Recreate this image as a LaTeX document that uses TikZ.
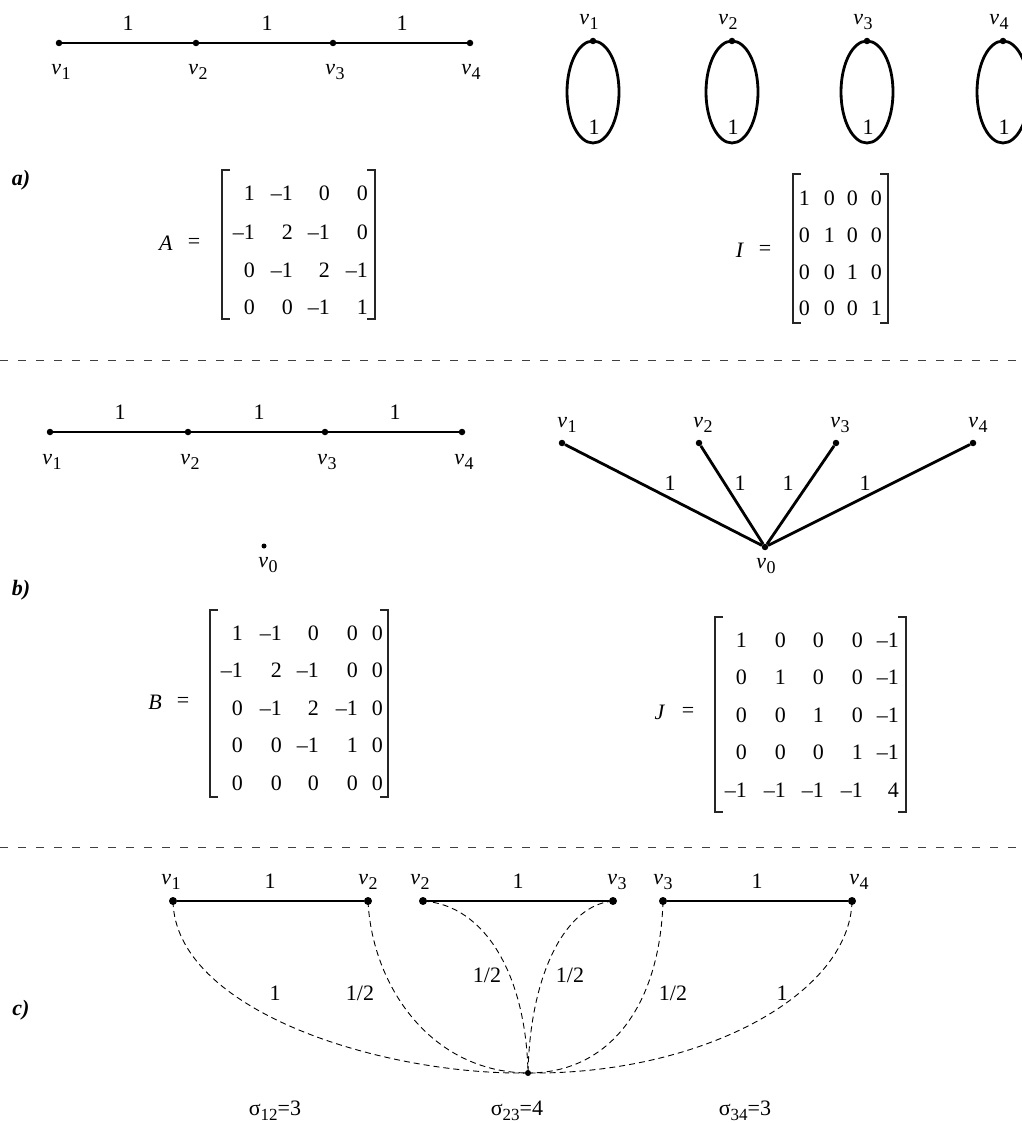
\documentclass[tikz,border=0pt]{standalone}
\usepackage{fontspec}
\setmainfont{Liberation Serif}
\newcommand\vx[1]{\textit{v}\kern0.3pt\raisebox{-5pt}{\fontsize{18}{18}\selectfont #1}}
\newcommand\sgx[2]{σ\raisebox{-5pt}{\fontsize{17}{17}\selectfont #1}=#2}
\tikzset{
  edge/.style={line width=2.8pt},
  vdot/.style={circle,fill,inner sep=0pt,minimum size=6.5pt},
  cdot/.style={circle,fill,inner sep=0pt,minimum size=8pt},
  lbl/.style={inner sep=0pt,font=\fontsize{22}{25}\selectfont},
  sep/.style={dash pattern=on 8pt off 10pt,line width=1pt,black!75},
  curve/.style={dash pattern=on 6pt off 4pt,line width=0.9pt},
  brk/.style={line width=1.3pt,black!85},
}
\newcommand\putmatrix[5]{%
  \foreach \e [count=\i from 0] in {#5}{%
    \pgfmathtruncatemacro\r{div(\i,#2)}%
    \pgfmathtruncatemacro\c{mod(\i,#2)}%
    \pgfmathsetmacro\xx{{#3}[\c]}%
    \pgfmathsetmacro\yy{{#4}[\r]+7.5}%
    \node[lbl,anchor=base east] (#1-\r-\c) at (\xx,\yy) {\e};
  }}
\newcommand\brackets[4]{%
  \draw[brk] (#1+8,#3) -- (#1,#3) -- (#1,#4) -- (#1+8,#4);
  \draw[brk] (#2-8,#3) -- (#2,#3) -- (#2,#4) -- (#2-8,#4);}
\begin{document}
\begin{tikzpicture}[x=1pt,y=-1pt]
\useasboundingbox (0,0) rectangle (1021,1123);

% ---------------- part a ----------------
\node[vdot] (a1) at (59,43) {};
\node[vdot] (a2) at (196,43) {};
\node[vdot] (a3) at (333,43) {};
\node[vdot] (a4) at (470,43) {};
\draw[edge] (a1) -- (a2) -- (a3) -- (a4);
\node[lbl] (wa1) at (128,23) {1};
\node[lbl] (wa2) at (267,23) {1};
\node[lbl] (wa3) at (402,23) {1};
\node[lbl] (la1) at (61,72) {\vx{1}};
\node[lbl] (la2) at (198,72) {\vx{2}};
\node[lbl] (la3) at (335,72) {\vx{3}};
\node[lbl] (la4) at (471,72) {\vx{4}};

\foreach \n/\x in {1/593,2/732,3/867,4/1003}{
  \draw[edge] (\x,92) ellipse [x radius=26,y radius=51];
  \node[vdot] (e\n) at (\x,41) {};
  \node[lbl] (le\n) at (\x-4,22) {\vx{\n}};
  \node[lbl] (we\n) at (\x+1,127) {1};
}

\node[lbl] (pa) at (21,180) {\textbf{\textit{a)}}};

\node[lbl] (Al) at (166,243) {\textit{A}};
\node[lbl] (Ae) at (194,243) {=};
\putmatrix{A}{4}{255,293,330,368}{193,232,270,307}{1,–1,0,0,–1,2,–1,0,0,–1,2,–1,0,0,–1,1}
\brackets{222}{375}{170}{319}

\node[lbl] (Il) at (740,250) {\textit{I}};
\node[lbl] (Ie) at (765,250) {=};
\putmatrix{I}{4}{810,835,858,882}{198,235,272,308}{1,0,0,0,0,1,0,0,0,0,1,0,0,0,0,1}
\brackets{793}{888}{174}{323}

\coordinate (s1l) at (0,360);
\coordinate (s1r) at (1021,360);
\draw[sep] (s1l) -- (s1r);

% ---------------- part b ----------------
\node[vdot] (b1) at (50,432) {};
\node[vdot] (b2) at (188,432) {};
\node[vdot] (b3) at (325,432) {};
\node[vdot] (b4) at (462,432) {};
\draw[edge] (b1) -- (b2) -- (b3) -- (b4);
\node[lbl] (wb1) at (120,412) {1};
\node[lbl] (wb2) at (259,412) {1};
\node[lbl] (wb3) at (395,412) {1};
\node[lbl] (lb1) at (52,462) {\vx{1}};
\node[lbl] (lb2) at (190,462) {\vx{2}};
\node[lbl] (lb3) at (327,462) {\vx{3}};
\node[lbl] (lb4) at (464,462) {\vx{4}};
\node[vdot,minimum size=5pt] (b0) at (264,546) {};
\node[lbl] (lb0) at (268,565) {\vx{0}};

\node[vdot] (s1) at (562,443) {};
\node[vdot] (s2) at (699,443) {};
\node[vdot] (s3) at (836,443) {};
\node[vdot] (s4) at (973,443) {};
\node[vdot] (s0) at (765,547) {};
\draw[edge] (s1) -- (s0);
\draw[edge] (s2) -- (s0);
\draw[edge] (s3) -- (s0);
\draw[edge] (s4) -- (s0);
\node[lbl] (ls1) at (567,425) {\vx{1}};
\node[lbl] (ls2) at (703,425) {\vx{2}};
\node[lbl] (ls3) at (840,425) {\vx{3}};
\node[lbl] (ls4) at (978,425) {\vx{4}};
\node[lbl] (ls0) at (766,566) {\vx{0}};
\node[lbl] (ws1) at (670,483) {1};
\node[lbl] (ws2) at (740,483) {1};
\node[lbl] (ws3) at (788,483) {1};
\node[lbl] (ws4) at (865,483) {1};

\node[lbl] (pb) at (21,590) {\textbf{\textit{b)}}};

\node[lbl] (Bl) at (155,702) {\textit{B}};
\node[lbl] (Be) at (183,702) {=};
\putmatrix{B}{5}{243,282,319,358,383}{633,670,708,745,783}{1,–1,0,0,0,–1,2,–1,0,0,0,–1,2,–1,0,0,0,–1,1,0,0,0,0,0,0}
\brackets{210}{388}{610}{797}

\node[lbl] (Jl) at (660,712) {\textit{J}};
\node[lbl] (Je) at (688,712) {=};
\putmatrix{J}{5}{747,786,824,863,899}{640,677,715,752,790}{1,0,0,0,–1,0,1,0,0,–1,0,0,1,0,–1,0,0,0,1,–1,–1,–1,–1,–1,4}
\brackets{715}{906}{617}{812}

\coordinate (s2l) at (0,847);
\coordinate (s2r) at (1021,847);
\draw[sep] (s2l) -- (s2r);

% ---------------- part c ----------------
\node[cdot] (c1) at (173,901) {};
\node[cdot] (c2) at (368,901) {};
\node[cdot] (c2b) at (423,901) {};
\node[cdot] (c3) at (613,901) {};
\node[cdot] (c3b) at (663,901) {};
\node[cdot] (c4) at (852,901) {};
\node[cdot,minimum size=6pt] (c0) at (528,1073) {};
\draw[edge] (c1) -- (c2);
\draw[edge] (c2b) -- (c3);
\draw[edge] (c3b) -- (c4);
\node[lbl] (wc1) at (270,881) {1};
\node[lbl] (wc2) at (518,881) {1};
\node[lbl] (wc3) at (757,881) {1};
\node[lbl] (lc1) at (171,882) {\vx{1}};
\node[lbl] (lc2) at (368,882) {\vx{2}};
\node[lbl] (lc2b) at (420,882) {\vx{2}};
\node[lbl] (lc3) at (617,882) {\vx{3}};
\node[lbl] (lc3b) at (663,882) {\vx{3}};
\node[lbl] (lc4) at (859,882) {\vx{4}};

\draw[curve] (c1.center) .. controls (175,1010) and (380,1075) .. (c0.center);
\draw[curve] (c2.center) .. controls (372,985) and (430,1072) .. (c0.center);
\draw[curve] (c2b.center) .. controls (485,905) and (526,975) .. (c0.center);
\draw[curve] (c3.center) .. controls (565,905) and (530,975) .. (c0.center);
\draw[curve] (c3b.center) .. controls (660,1005) and (610,1073) .. (c0.center);
\draw[curve] (c4.center) .. controls (850,995) and (700,1075) .. (c0.center);

\node[lbl] (wd1) at (275,993) {1};
\node[lbl] (wd2) at (360,993) {1/2};
\node[lbl] (wd3) at (487,975) {1/2};
\node[lbl] (wd4) at (570,975) {1/2};
\node[lbl] (wd5) at (673,993) {1/2};
\node[lbl] (wd6) at (782,993) {1};

\node[lbl] (pc) at (21,1010) {\textbf{\textit{c)}}};

\node[lbl,anchor=base] (sg1) at (275,1115) {\sgx{12}{3}};
\node[lbl,anchor=base] (sg2) at (517,1115) {\sgx{23}{4}};
\node[lbl,anchor=base] (sg3) at (745,1115) {\sgx{34}{3}};
\end{tikzpicture}
\end{document}
